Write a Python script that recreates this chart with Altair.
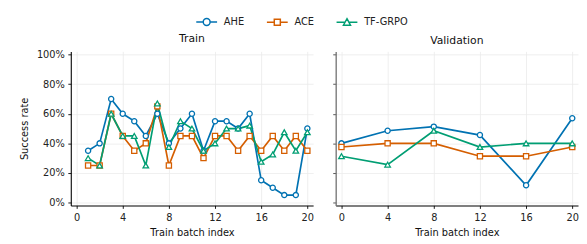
import altair as alt
import pandas as pd

series = ["AHE", "ACE", "TF-GRPO"]
colors = ["#0072B2", "#D55E00", "#009E73"]
shapes = ["circle", "square", "triangle-up"]

train_x = list(range(1, 21))
train_ahe = [0.35, 0.40, 0.70, 0.60, 0.55, 0.45, 0.60, 0.40, 0.50, 0.60,
             0.35, 0.55, 0.55, 0.50, 0.60, 0.15, 0.10, 0.05, 0.05, 0.50]
train_ace = [0.25, 0.25, 0.60, 0.45, 0.35, 0.40, 0.65, 0.25, 0.45, 0.45,
             0.30, 0.45, 0.45, 0.35, 0.45, 0.35, 0.45, 0.35, 0.45, 0.35]
train_tf = [0.30, 0.25, 0.60, 0.45, 0.45, 0.25, 0.67, 0.375, 0.55, 0.50,
            0.35, 0.40, 0.50, 0.50, 0.52, 0.275, 0.325, 0.475, 0.35, 0.475]

val_x = [0, 4, 8, 12, 16, 20]
val_ahe = [0.40, 0.485, 0.513, 0.456, 0.116, 0.57]
val_ace = [0.375, 0.40, 0.40, 0.313, 0.313, 0.375]
val_tf = [0.313, 0.256, 0.485, 0.375, 0.40, 0.40]

x_ticks = [0, 4, 8, 12, 16, 20]
y_ticks = [0, 0.2, 0.4, 0.6, 0.8, 1.0]


def frame(xs, cols):
    rows = []
    for name, vals in zip(series, cols):
        for x, v in zip(xs, vals):
            rows.append({"x": x, "y": v, "series": name})
    return pd.DataFrame(rows)


train_df = frame(train_x, [train_ahe, train_ace, train_tf])
val_df = frame(val_x, [val_ahe, val_ace, val_tf])

# legend glyphs: a short line with the open marker in the middle
legend_paths = [
    "M-1,0H-0.33M0.33,0H1M0.33,0A0.33,0.33 0 1,1 -0.33,0A0.33,0.33 0 1,1 0.33,0",
    "M-1,0H-0.29M0.29,0H1M-0.29,-0.29H0.29V0.29H-0.29Z",
    "M-1,0H-0.18M0.18,0H1M0,-0.34L0.34,0.28H-0.34Z",
]

# stroke scale uses the data-derived (alphabetically sorted) domain
sorted_series = sorted(series)
stroke_range = [colors[series.index(s)] for s in sorted_series]

FONT = "DejaVu Sans"
W, H = 247, 157


def panel(df, title, show_y, with_legend):
    xenc = alt.X("x:Q", scale=alt.Scale(domain=[-0.5, 20.5], nice=False, zero=False),
                 axis=alt.Axis(values=x_ticks, title="Train batch index", format="d"))
    if show_y:
        yaxis = alt.Axis(values=y_ticks, format=".0%", title="Success rate", titlePadding=7)
    else:
        yaxis = alt.Axis(values=y_ticks, title=None, labels=False,
                         domainColor="#6e6e6e", tickColor="#444444", domainWidth=1.3)
    yenc = alt.Y("y:Q", scale=alt.Scale(domain=[-0.02, 1.022], nice=False, zero=False),
                 axis=yaxis)
    stroke = alt.Stroke("series:N", scale=alt.Scale(range=stroke_range), legend=None)
    base = alt.Chart(df).encode(x=xenc, y=yenc)
    layers = [base.mark_line(strokeWidth=1.7).encode(stroke=stroke, detail="series:N")]
    for s, shp in zip(series, shapes):
        layers.append(
            base.transform_filter(alt.datum.series == s)
            .mark_point(shape=shp, filled=False, fill="white", fillOpacity=1, opacity=1,
                        size=28 if shp != "triangle-up" else 32, strokeWidth=1.3)
            .encode(stroke=stroke)
        )
    if with_legend:
        leg = alt.Legend(title=None, orient="none", direction="horizontal", columns=3,
                         legendX=127, legendY=-42, symbolSize=450,
                         symbolFillColor="white", symbolStrokeWidth=1.5)
        layers.append(
            base.transform_filter("false")
            .mark_point(filled=False, opacity=1, strokeWidth=1.5)
            .encode(
                color=alt.Color("series:N", scale=alt.Scale(domain=series, range=colors),
                                legend=leg),
                shape=alt.Shape("series:N", scale=alt.Scale(domain=series, range=legend_paths),
                                legend=leg),
            )
        )
    return alt.layer(*layers).properties(width=W, height=H, title=title)


train = panel(train_df, "Train", True, True)
val = panel(val_df, "Validation", False, False)

chart = (
    alt.hconcat(train, val, spacing=18)
    .properties(padding={"left": 11, "top": 0, "right": 0, "bottom": 0})
    .configure(font=FONT)
    .configure_view(stroke=None)
    .configure_axis(
        labelFont=FONT, titleFont=FONT, labelFontSize=10, titleFontSize=10,
        titleFontWeight="normal", labelColor="#222222", titleColor="#111111",
        domainColor="#000000", domainWidth=1.1, tickColor="#000000", tickSize=3,
        tickWidth=0.9, labelPadding=3, gridColor="#ebebeb", gridWidth=0.8,
        titlePadding=4,
    )
    .configure_axisX(labelPadding=4.5, titlePadding=5)
    .configure_axisY(labelPadding=3.5)
    .configure_title(font=FONT, fontSize=11, fontWeight="normal", anchor="middle",
                     color="#111111", offset=6)
    .configure_legend(labelFont=FONT, labelFontSize=10, labelColor="#222222",
                      symbolStrokeWidth=1.5, columnPadding=19, labelOffset=6,
                      symbolSize=450)
)

chart.save("out.html", embed_options={"renderer": "svg", "actions": False})
